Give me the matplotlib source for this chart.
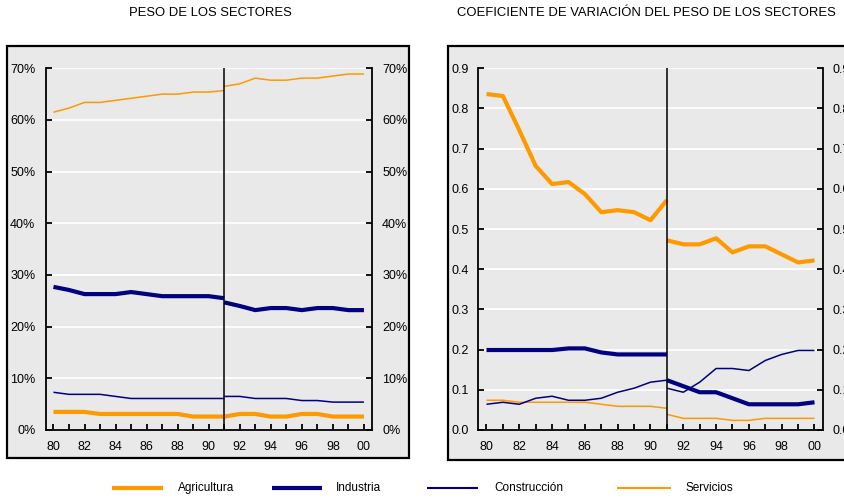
import matplotlib
matplotlib.use("Agg")
import matplotlib.pyplot as plt
from matplotlib.patches import Rectangle
from matplotlib.lines import Line2D
import numpy as np

plt.rcParams['font.family'] = ['Liberation Sans', 'DejaVu Sans']

# ---------- data ----------
years_a = [80, 81, 82, 83, 84, 85, 86, 87, 88, 89, 90, 91]          # old series
years_b = [91, 92, 93, 94, 95, 96, 97, 98, 99, 100]                 # new series
xtick_vals = [80, 82, 84, 86, 88, 90, 92, 94, 96, 98, 100]
xtick_labels = ['80', '82', '84', '86', '88', '90', '92', '94', '96', '98', '00']
series_names = ['Agricultura', 'Industria', 'Construcción', 'Servicios']

# Peso de los sectores (%)
peso_agri_a = [3.5, 3.5, 3.5, 3.1, 3.1, 3.1, 3.1, 3.1, 3.1, 2.6, 2.6, 2.6]
peso_agri_b = [2.6, 3.1, 3.1, 2.6, 2.6, 3.1, 3.1, 2.6, 2.6, 2.6]
peso_ind_a = [27.7, 27.1, 26.3, 26.3, 26.3, 26.7, 26.3, 25.9, 25.9, 25.9, 25.9, 25.5]
peso_ind_b = [24.7, 24.0, 23.2, 23.6, 23.6, 23.2, 23.6, 23.6, 23.2, 23.2]
peso_con_a = [7.3, 6.9, 6.9, 6.9, 6.5, 6.1, 6.1, 6.1, 6.1, 6.1, 6.1, 6.1]
peso_con_b = [6.5, 6.5, 6.1, 6.1, 6.1, 5.7, 5.7, 5.4, 5.4, 5.4]
peso_ser_a = [61.5, 62.3, 63.4, 63.4, 63.8, 64.2, 64.6, 65.0, 65.0, 65.4, 65.4, 65.7]
peso_ser_b = [66.5, 67.0, 68.1, 67.7, 67.7, 68.1, 68.1, 68.5, 68.9, 68.9]

# Coeficiente de variacion
cv_agri_a = [0.836, 0.831, 0.746, 0.657, 0.612, 0.617, 0.587, 0.542, 0.547, 0.542, 0.522, 0.572]
cv_agri_b = [0.472, 0.462, 0.462, 0.477, 0.442, 0.457, 0.457, 0.437, 0.417, 0.422]
cv_ind_a = [0.199, 0.199, 0.199, 0.199, 0.199, 0.203, 0.203, 0.193, 0.188, 0.188, 0.188, 0.188]
cv_ind_b = [0.124, 0.109, 0.094, 0.094, 0.079, 0.064, 0.064, 0.064, 0.064, 0.069]
cv_con_a = [0.064, 0.069, 0.064, 0.079, 0.084, 0.074, 0.074, 0.079, 0.094, 0.104, 0.119, 0.124]
cv_con_b = [0.104, 0.094, 0.119, 0.153, 0.153, 0.148, 0.173, 0.188, 0.198, 0.198]
cv_ser_a = [0.074, 0.074, 0.069, 0.069, 0.069, 0.069, 0.069, 0.064, 0.059, 0.059, 0.059, 0.054]
cv_ser_b = [0.039, 0.029, 0.029, 0.029, 0.024, 0.024, 0.029, 0.029, 0.029, 0.029]

ORANGE = '#FF9900'
NAVY = '#000080'
BG = '#E9E9E9'
styles = {
    'Agricultura': dict(color=ORANGE, lw=3.0),
    'Industria': dict(color=NAVY, lw=3.0),
    'Construcción': dict(color=NAVY, lw=1.1),
    'Servicios': dict(color=ORANGE, lw=1.1),
}

W, H = 845, 499
fig = plt.figure(figsize=(W / 100, H / 100), dpi=100)

def px(x0, y0, x1, y1):
    """pixel box (top-left origin) -> figure fraction rect"""
    return [x0 / W, 1 - y1 / H, (x1 - x0) / W, (y1 - y0) / H]

# panel frames
for (x0, y0, x1, y1) in [(7, 45.5, 409, 458), (447.5, 45.5, 880, 460)]:
    r = px(x0, y0, x1, y1)
    fig.patches.append(Rectangle((r[0], r[1]), r[2], r[3], transform=fig.transFigure,
                                 facecolor=BG, edgecolor='black', lw=1.6, zorder=-5))

ax1 = fig.add_axes(px(45.7, 68.3, 371.7, 430))
ax2 = fig.add_axes(px(478.3, 68.3, 822.7, 430))

def style_axis(ax, ylim, yticks, ylabels, ypad):
    ax.set_facecolor(BG)
    ax.set_xlim(79.5, 100.5)
    ax.set_ylim(*ylim)
    ax.spines['top'].set_visible(False)
    for s in ['left', 'right', 'bottom']:
        ax.spines[s].set_linewidth(1.3)
        ax.spines[s].set_color('black')
    ax.set_yticks(yticks)
    ax.set_yticklabels(ylabels)
    ax.yaxis.set_ticks_position('both')
    ax.tick_params(axis='y', which='both', direction='in', length=4, width=1.3,
                   labelsize=9, labelright=True, pad=ypad, colors='black')
    ax.set_xticks(xtick_vals)
    ax.set_xticklabels(xtick_labels)
    ax.set_xticks(list(range(81, 100, 2)), minor=True)
    ax.tick_params(axis='x', which='both', direction='in', length=4, width=1.3,
                   labelsize=9, pad=8)
    ax.grid(axis='y', color='white', lw=1.2)
    ax.set_axisbelow(True)
    ax.axvline(91, color='black', lw=1.1, zorder=5)

style_axis(ax1, (0, 70), np.arange(0, 71, 10), [f'{v}%' for v in range(0, 71, 10)], 7.5)
style_axis(ax2, (0, 0.9), np.round(np.arange(0, 0.91, 0.1), 1),
           [f'{v:.1f}' for v in np.arange(0, 0.91, 0.1)], 7)

peso = {
    'Agricultura': (peso_agri_a, peso_agri_b),
    'Industria': (peso_ind_a, peso_ind_b),
    'Construcción': (peso_con_a, peso_con_b),
    'Servicios': (peso_ser_a, peso_ser_b),
}
cv = {
    'Agricultura': (cv_agri_a, cv_agri_b),
    'Industria': (cv_ind_a, cv_ind_b),
    'Construcción': (cv_con_a, cv_con_b),
    'Servicios': (cv_ser_a, cv_ser_b),
}
for ax, data in [(ax1, peso), (ax2, cv)]:
    for name in series_names[::-1]:
        a, b = data[name]
        ax.plot(years_a, a, solid_capstyle='butt', zorder=3, **styles[name])
        ax.plot(years_b, b, solid_capstyle='butt', zorder=3, **styles[name])

fig.text(210 / W, 1 - 13 / H, 'PESO DE LOS SECTORES', ha='center', va='center', fontsize=9.4)
fig.text(646.5 / W, 1 - 13 / H, 'COEFICIENTE DE VARIACIÓN DEL PESO DE LOS SECTORES',
         ha='center', va='center', fontsize=9.4)

# legend
leg_pos = [(112, 163, 178), (272, 322, 336), (427, 478, 494), (617, 671, 686)]
ly = 1 - 488 / H
for name, (l0, l1, tx) in zip(series_names, leg_pos):
    st = dict(styles[name])
    if st['lw'] < 2:
        st['lw'] = 1.5
    fig.add_artist(Line2D([l0 / W, l1 / W], [ly, ly], transform=fig.transFigure,
                          solid_capstyle='butt', **st))
    fig.text(tx / W, ly, name, ha='left', va='center', fontsize=8.5)

fig.savefig('out.png', dpi=100)
